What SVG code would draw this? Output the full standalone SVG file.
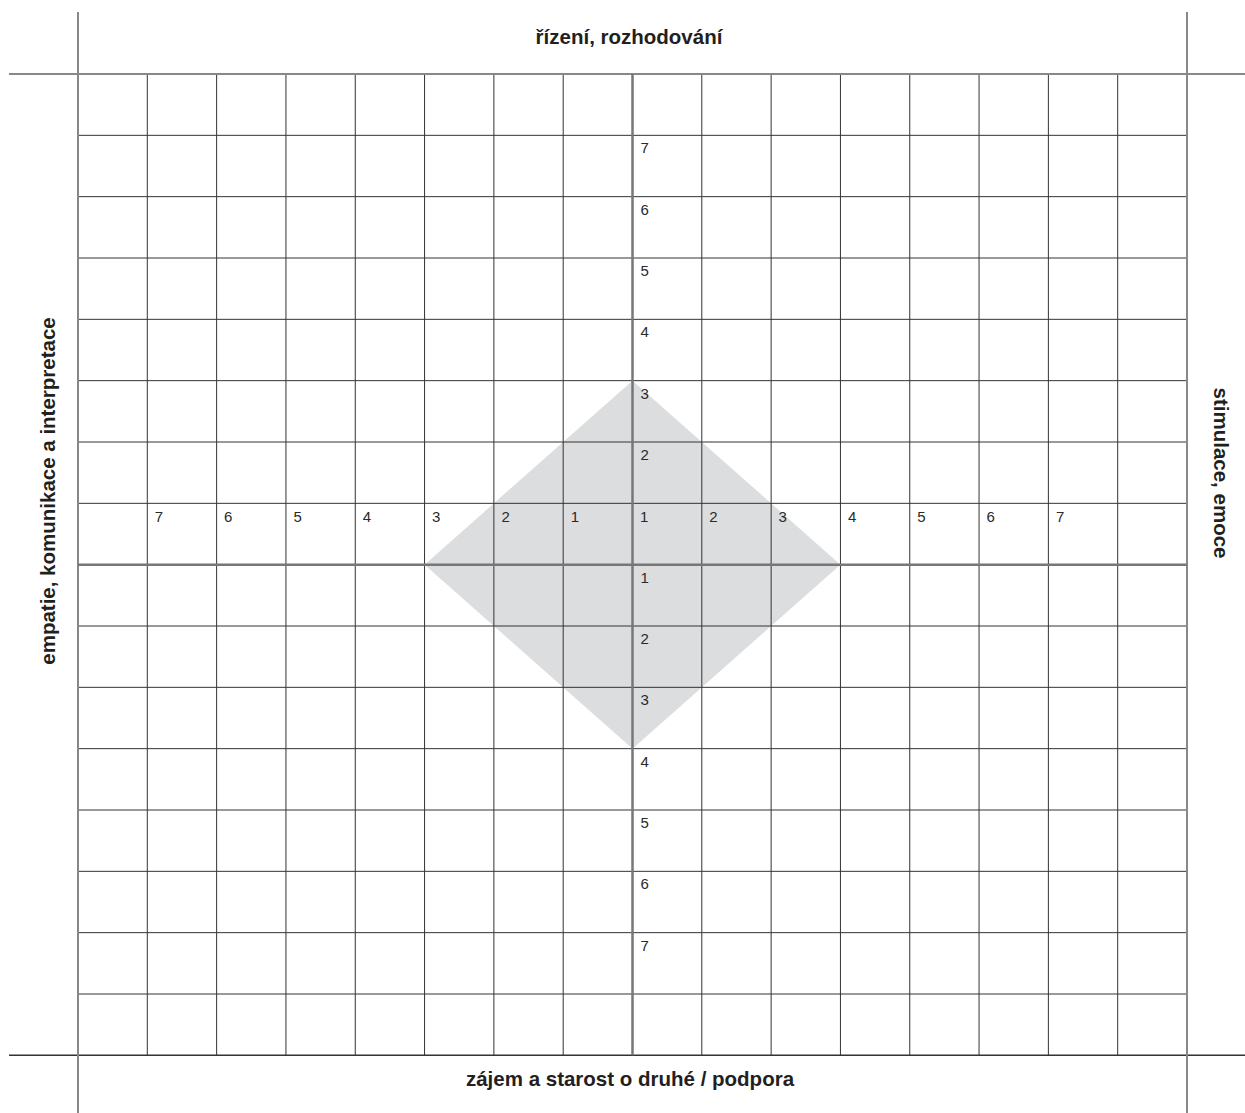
<svg xmlns="http://www.w3.org/2000/svg" width="1245" height="1113" viewBox="0 0 1245 1113">
<style>
.g{stroke:#333;stroke-width:1;fill:none}
.b{stroke:#888;stroke-width:2;fill:none}
.ax{stroke:#777;stroke-width:2.5;fill:none}
.n{font-family:"Liberation Sans",Arial,sans-serif;font-size:15px;fill:#2a2a2a}
.t{font-family:"Liberation Sans",Arial,sans-serif;font-size:20.5px;font-weight:bold;fill:#231f20;text-anchor:middle}
</style>
<rect width="1245" height="1113" fill="#fff"/>
<g id="diamond">
<polygon points="632.5,380.66 840.44,564.66 632.5,748.66 424.56,564.66" fill="#dcdddf"/>
</g>
<g id="grid">
<path class="g" d="M147.31,74V1055.3M216.63,74V1055.3M285.94,74V1055.3M355.25,74V1055.3M424.56,74V1055.3M493.88,74V1055.3M563.19,74V1055.3M701.81,74V1055.3M771.13,74V1055.3M840.44,74V1055.3M909.75,74V1055.3M979.06,74V1055.3M1048.38,74V1055.3M1117.69,74V1055.3"/>
<path class="g" d="M78,135.33H1187M78,196.66H1187M78,258H1187M78,319.33H1187M78,380.66H1187M78,442H1187M78,503.33H1187M78,626H1187M78,687.33H1187M78,748.66H1187M78,810H1187M78,871.33H1187M78,932.66H1187M78,994H1187"/>
<path d="M9,1055.3H1245" stroke="#333" stroke-width="1.5"/>
<path class="b" d="M9,74H1245M78,12V1113M1187,12V1113"/>
</g>
<g id="axes">
<path class="ax" d="M632.5,74V1055.3M78,564.66H1187"/>
</g>
<g id="vlabels" class="n">
<text x="640.5" y="153.3">7</text>
<text x="640.5" y="214.7">6</text>
<text x="640.5" y="276">5</text>
<text x="640.5" y="337.3">4</text>
<text x="640.5" y="398.7">3</text>
<text x="640.5" y="460">2</text>
<text x="640.5" y="582.7">1</text>
<text x="640.5" y="644">2</text>
<text x="640.5" y="705.3">3</text>
<text x="640.5" y="766.7">4</text>
<text x="640.5" y="828">5</text>
<text x="640.5" y="889.3">6</text>
<text x="640.5" y="950.7">7</text>
</g>
<g id="hlabels" class="n">
<text x="154.8" y="521.5">7</text>
<text x="224.1" y="521.5">6</text>
<text x="293.4" y="521.5">5</text>
<text x="362.8" y="521.5">4</text>
<text x="432.1" y="521.5">3</text>
<text x="501.4" y="521.5">2</text>
<text x="570.7" y="521.5">1</text>
<text x="640" y="521.5">1</text>
<text x="709.3" y="521.5">2</text>
<text x="778.6" y="521.5">3</text>
<text x="847.9" y="521.5">4</text>
<text x="917.3" y="521.5">5</text>
<text x="986.6" y="521.5">6</text>
<text x="1055.9" y="521.5">7</text>
</g>
<g id="titles">
<text class="t" x="629" y="44">řízení, rozhodování</text>
<text class="t" x="630" y="1086">zájem a starost o druhé / podpora</text>
<text class="t" transform="translate(55,491) rotate(-90)">empatie, komunikace a interpretace</text>
<text class="t" transform="translate(1214,473) rotate(90)">stimulace, emoce</text>
</g>
</svg>
